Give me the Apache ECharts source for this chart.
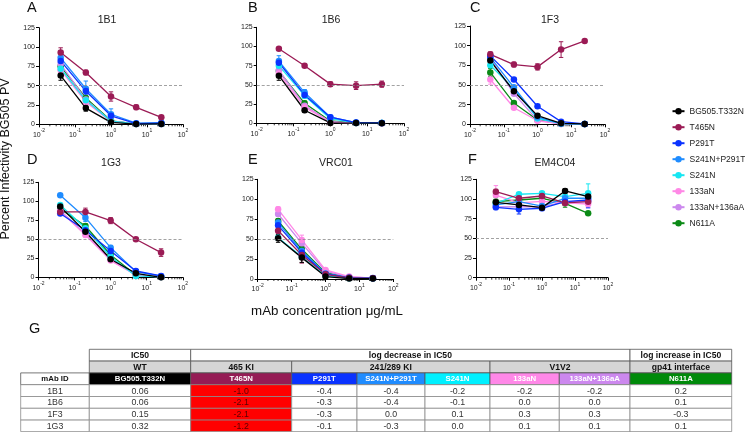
<!DOCTYPE html>
<html><head><meta charset="utf-8">
<script src="https://cdn.jsdelivr.net/npm/echarts@6/dist/echarts.min.js"></script>
<style>html,body{margin:0;padding:0;background:#fff}#c{width:745px;height:432px}</style>
</head><body><div id="c"></div>
<script>
// ---------------- DATA ----------------
const concentrations = [0.04, 0.2, 1, 5, 25];
const seriesNames = ['BG505.T332N','T465N','P291T','S241N+P291T','S241N','133aN','133aN+136aA','N611A'];
const seriesColors = ['#000000','#9b1b55','#0a32ff','#1f8cff','#16e6f2','#ff88e6','#cc88ee','#0b8a16'];
const panelTitles = ['1B1','1B6','1F3','1G3','VRC01','EM4C04'];
const panelLetters = ['A','B','C','D','E','F'];
const yTicks = [0, 25, 50, 75, 100, 125];
const minorTickValues = [0.02,0.03,0.04,0.05,0.06,0.07,0.08,0.09,0.2,0.3,0.4,0.5,0.6,0.7,0.8,0.9,2,3,4,5,6,7,8,9,20,30,40,50,60,70,80,90];
const referenceLine = 50;

// values: rows in seriesNames order, columns in concentrations order
const values1B1 = [
  [63, 21, 2.5, 0.3, 0.5],
  [93, 67, 36, 22, 9],
  [82, 43, 11, 1, 1.5],
  [86, 46, 13, 1.5, 2],
  [72, 31, 4, 0.5, 0.5],
  [70, 29, 3.5, 0.5, 0.5],
  [78, 32, 4, 0.5, 0.5],
  [75, 34, 4.5, 0.5, 1]
];
const errors1B1 = [
  [6,4,1,0,0],[6,3,6,3,2],[4,4,3,1,1],[5,10,7,1,1],[3,3,1,0,0],[3,3,1,0,0],[3,3,1,0,0],[3,3,1,0,0]
];
const values1B6 = [
  [62, 17, 0.5, 0.3, 0.2],
  [97, 75, 51, 49, 51],
  [79, 37, 8, 1, 0.5],
  [81, 40, 8, 1, 0.5],
  [75, 36, 6, 0.5, 0.3],
  [65, 21, 1.5, 0.3, 0.2],
  [69, 23, 2, 0.3, 0.2],
  [68, 26, 3, 0.5, 0.3]
];
const errors1B6 = [
  [6,3,1,0,0],[2,2,3,5,4],[4,4,2,1,0],[7,4,2,1,0],[4,3,1,0,0],[4,3,1,0,0],[4,3,1,0,0],[4,3,1,0,0]
];
const values1F3 = [
  [81, 42, 11, 1.3, 0.5],
  [89, 76, 73, 95, 106],
  [87, 57, 23, 3.4, 0.5],
  [85, 47, 9, 1, 0.3],
  [75, 45, 7.5, 0.8, 0.3],
  [57, 21, 4.5, 0.5, 0.3],
  [84, 39, 5, 0.5, 0.3],
  [66, 27, 5.5, 0.8, 0.3]
];
const errors1F3 = [
  [3,2,1,0,0],[3,3,4,10,1],[2,2,1,0,0],[2,2,1,0,0],[2,2,1,0,0],[6,2,1,0,0],[2,2,1,0,0],[5,2,1,0,0]
];
const values1G3 = [
  [93, 60, 23.7, 5.3, 0],
  [86, 86, 74.6, 50, 32.5],
  [84, 62, 34.6, 8.3, 1.8],
  [108, 78.5, 39, 7.5, 1.5],
  [95, 64.5, 27, 1.8, 0.5],
  [87, 55.7, 22, 3, 0.5],
  [88, 57, 23, 3, 0.5],
  [90, 67.5, 29.4, 3, 0.5]
];
const errors1G3 = [
  [3,3,2,2,0],[0,5,4,2,5],[2,3,2,1,0],[2,5,3,1,1],[2,3,2,1,0],[2,3,2,1,0],[2,3,2,1,0],[2,3,2,1,0]
];
const valuesVRC01 = [
  [51, 26.8, 3, 0.5, 0.5],
  [60.6, 30, 5.9, 1.5, 0.8],
  [67.3, 33, 6.3, 1.5, 1.2],
  [70.7, 35, 7, 1.8, 1],
  [51.8, 28, 4.2, 1, 0.5],
  [87.4, 49, 11.3, 3, 1],
  [81.5, 44.7, 10, 2.5, 1],
  [72.7, 37.2, 8, 2, 1]
];
const errorsVRC01 = [
  [5,6,2,0,0],[4,10,2,0,0],[3,3,1,1,1],[3,3,1,1,1],[3,3,1,1,1],[3,6,2,1,0],[3,3,1,1,1],[3,3,1,1,1]
];
const valuesEM4C04 = [
  [95.8, 92.4, 89, 110.2, 103],
  [109.3, 100.9, 103.8, 95, 96.6],
  [89.4, 86.9, 88.2, 96.6, 98.7],
  [92.4, 96.6, 91, 100.9, 100.9],
  [94.5, 106, 107.2, 103, 107.2],
  [105, 95, 97, 95, 93.6],
  [90, 90.2, 90, 96.6, 96.6],
  [96.6, 98.7, 100.9, 94.5, 81.8]
];
const errorsEM4C04 = [
  [3,3,3,3,4],[3,3,3,3,4],[3,6,3,3,10],[3,3,3,3,4],[2,2,2,2,12],[12,2,2,2,4],[3,3,3,3,4],[5,3,3,5,1]
];

// table data
const tableColumnLabels = ['mAb ID','BG505.T332N','T465N','P291T','S241N+P291T','S241N','133aN','133aN+136aA','N611A'];
const tableGroupRow1 = [['IC50',1,1],['log decrease in IC50',2,7],['log increase in IC50',8,8]];
const tableGroupRow2 = [['WT',1,1],['465 KI',2,2],['241/289 KI',3,5],['V1V2',6,7],['gp41 interface',8,8]];
const mAbIds = ['1B1','1B6','1F3','1G3'];
const ic50WT = ['0.06','0.06','0.15','0.32'];
const logChangeT465N = ['-1.0','-2.1','-2.1','-1.2'];
const logChangeP291T = ['-0.4','-0.3','-0.3','-0.1'];
const logChangeS241NP291T = ['-0.4','-0.4','0.0','-0.3'];
const logChangeS241N = ['-0.2','-0.1','0.1','0.0'];
const logChange133aN = ['-0.2','0.0','0.3','0.1'];
const logChange133aN136aA = ['-0.2','0.0','0.3','0.1'];
const logChangeN611A = ['0.2','0.1','-0.3','0.1'];

// ---------------- LAYOUT ----------------
const FONT = '"Liberation Sans", Arial, Helvetica, sans-serif';
const panelValues = [values1B1, values1B6, values1F3, values1G3, valuesVRC01, valuesEM4C04];
const panelErrors = [errors1B1, errors1B6, errors1F3, errors1G3, errorsVRC01, errorsEM4C04];
const grids = [
  {left:39, top:27.7, width:144, height:96.6},
  {left:256.7, top:27.3, width:147.3, height:96},
  {left:470, top:26, width:135, height:98.3},
  {left:38.5, top:182.3, width:144.3, height:95},
  {left:257.7, top:179.3, width:135.6, height:99.7},
  {left:476, top:179.3, width:132, height:98.4}
];
const titlePos = [[107,20],[331,20.5],[550,20],[111,162.7],[336,162.7],[555,162.7]];
const letterPos = [[27,8.3],[248,7.5],[470,8],[27,160],[248,160],[468,160]];

const xAxes = [], yAxes = [], series = [];
grids.forEach((g, p) => {
  xAxes.push({
    gridIndex: p, type: 'log', logBase: 10, min: 0.01, max: 100, splitNumber: 4,
    axisLine: {show: true, lineStyle: {color: '#000', width: 1}},
    axisTick: {show: true, length: 3, lineStyle: {color: '#000', width: 1}},
    splitLine: {show: false},
    axisLabel: {
      fontSize: 7, color: '#222', fontFamily: FONT, margin: 4,
      formatter: v => '{b|10}{s|' + Math.round(Math.log10(v)) + '}',
      rich: {
        b: {fontSize: 7, fontFamily: FONT, color: '#222', lineHeight: 10, verticalAlign: 'bottom'},
        s: {fontSize: 5, fontFamily: FONT, color: '#222', lineHeight: 10, verticalAlign: 'top'}
      }
    }
  });
  yAxes.push({
    gridIndex: p, type: 'value', min: yTicks[0], max: yTicks[yTicks.length-1], interval: yTicks[1]-yTicks[0],
    axisLine: {show: true, lineStyle: {color: '#000', width: 1}},
    axisTick: {show: true, length: 3, lineStyle: {color: '#000', width: 1}},
    splitLine: {show: false},
    axisLabel: {fontSize: 7, color: '#222', fontFamily: FONT, margin: 4}
  });
  // minor ticks on log axis
  series.push({
    type: 'custom', name: 'minor' + p, xAxisIndex: p, yAxisIndex: p, silent: true, clip: false,
    data: minorTickValues.map(v => [v, 0]),
    encode: {x: 0, y: 1},
    renderItem: (params, api) => {
      const pt = api.coord([api.value(0), 0]);
      return {type: 'line', shape: {x1: pt[0], y1: pt[1], x2: pt[0], y2: pt[1] + 2},
        style: {stroke: '#000', lineWidth: 0.8}};
    }
  });
  const vals = panelValues[p], errs = panelErrors[p];
  for (let s = seriesNames.length - 1; s >= 0; s--) {
    const color = seriesColors[s];
    series.push({
      type: 'custom', name: seriesNames[s] + ' error', xAxisIndex: p, yAxisIndex: p, silent: true,
      data: concentrations.map((c, i) => [c, vals[s][i], errs[s][i]]),
      encode: {x: 0, y: 1},
      renderItem: (params, api) => {
        const x = api.value(0), y = api.value(1), e = api.value(2);
        if (!e) return null;
        const top = api.coord([x, y + e]);
        const bot = api.coord([x, Math.max(y - e, 0)]);
        const w = 2.2;
        return {type: 'group', children: [
          {type: 'line', shape: {x1: top[0], y1: top[1], x2: bot[0], y2: bot[1]}, style: {stroke: color, lineWidth: 1}},
          {type: 'line', shape: {x1: top[0]-w, y1: top[1], x2: top[0]+w, y2: top[1]}, style: {stroke: color, lineWidth: 1}},
          {type: 'line', shape: {x1: bot[0]-w, y1: bot[1], x2: bot[0]+w, y2: bot[1]}, style: {stroke: color, lineWidth: 1}}
        ]};
      }
    });
    const line = {
      type: 'line', name: seriesNames[s], xAxisIndex: p, yAxisIndex: p,
      data: concentrations.map((c, i) => [c, vals[s][i]]),
      symbol: 'circle', symbolSize: 6.5, showSymbol: true,
      itemStyle: {color: color, borderWidth: 0},
      lineStyle: {color: color, width: 1.3},
      emphasis: {disabled: true}
    };
    if (s === seriesNames.length - 1) {
      line.markLine = {
        silent: true, symbol: 'none', label: {show: false},
        lineStyle: {type: [3, 2], color: '#8a8a8a', width: 0.8},
        data: [{yAxis: referenceLine}]
      };
    }
    series.push(line);
  }
});

// ---------------- GRAPHIC (titles, letters, table) ----------------
const graphics = [];
function txt(x, y, text, size, opts) {
  opts = opts || {};
  graphics.push({
    type: 'text', x: x, y: y, rotation: opts.rotation || 0, z: 100,
    style: {text: text, fontSize: size, fontFamily: FONT, fontWeight: opts.bold ? 'bold' : 'normal',
      fill: opts.color || '#222', textAlign: opts.align || 'center', textVerticalAlign: 'middle'}
  });
}
panelTitles.forEach((t, p) => txt(titlePos[p][0], titlePos[p][1], t, 10.5));
panelLetters.forEach((t, p) => txt(letterPos[p][0], letterPos[p][1], t, 14.5, {align: 'left', color: '#111'}));
txt(6, 159, 'Percent Infectivity BG505 PV', 12.5, {rotation: Math.PI / 2, color: '#111'});
txt(327, 311.7, 'mAb concentration \u03bcg/mL', 13.3, {color: '#111'});
txt(29, 328.5, 'G', 14.5, {align: 'left', color: '#111'});

// table
const colEdges = [20.7, 89.3, 190.7, 291.7, 357, 425, 490, 559.3, 630, 731.7];
const rowEdges = [349.3, 361.1, 372.9, 384.7, 396.5, 408.3, 420.1, 431.6];
const headerFills = ['#ffffff','#000000','#951c55','#0a32ff','#1f8cff','#00f0ff','#ff88e8','#cc88ee','#008a0a'];
function cell(c0, c1, r, text, fill, color, bold, stroke, fs) {
  const x0 = colEdges[c0], x1 = colEdges[c1 + 1], y0 = rowEdges[r], y1 = rowEdges[r + 1];
  graphics.push({type: 'rect', z: 90, shape: {x: x0, y: y0, width: x1 - x0, height: y1 - y0},
    style: {fill: fill, stroke: stroke || '#555', lineWidth: 0.8}});
  txt((x0 + x1) / 2, (y0 + y1) / 2 + 0.5, text, fs, {bold: bold, color: color});
}
tableGroupRow1.forEach(g => cell(g[1], g[2], 0, g[0], '#ffffff', '#111', true, '#555', 8.6));
tableGroupRow2.forEach(g => cell(g[1], g[2], 1, g[0], '#d5d5d5', '#111', true, '#555', 8.6));
tableColumnLabels.forEach((l, c) => cell(c, c, 2, l, headerFills[c], c === 0 ? '#111' : '#ffffff', true, '#555', 7.8));
const tableCols = [mAbIds, ic50WT, logChangeT465N, logChangeP291T, logChangeS241NP291T, logChangeS241N, logChange133aN, logChange133aN136aA, logChangeN611A];
for (let r = 0; r < mAbIds.length; r++) {
  tableCols.forEach((col, c) => {
    cell(c, c, 3 + r, col[r], c === 2 ? '#ff0000' : '#ffffff', c === 2 ? '#5a0000' : '#333', false, '#8a8a8a', 8.8);
  });
}

const chart = echarts.init(document.getElementById('c'), null, {renderer: 'canvas'});
chart.setOption({
  animation: false,
  backgroundColor: '#ffffff',
  textStyle: {fontFamily: FONT},
  grid: grids.map(g => Object.assign({containLabel: false, outerBoundsMode: 'none'}, g)),
  xAxis: xAxes,
  yAxis: yAxes,
  legend: {
    orient: 'vertical', left: 671.5, top: 106.7, padding: 0, itemWidth: 12, itemHeight: 8, itemGap: 7,
    data: seriesNames, selectedMode: false,
    textStyle: {fontSize: 8.5, color: '#222', fontFamily: FONT}
  },
  graphic: graphics,
  series: series
});
</script></body></html>
